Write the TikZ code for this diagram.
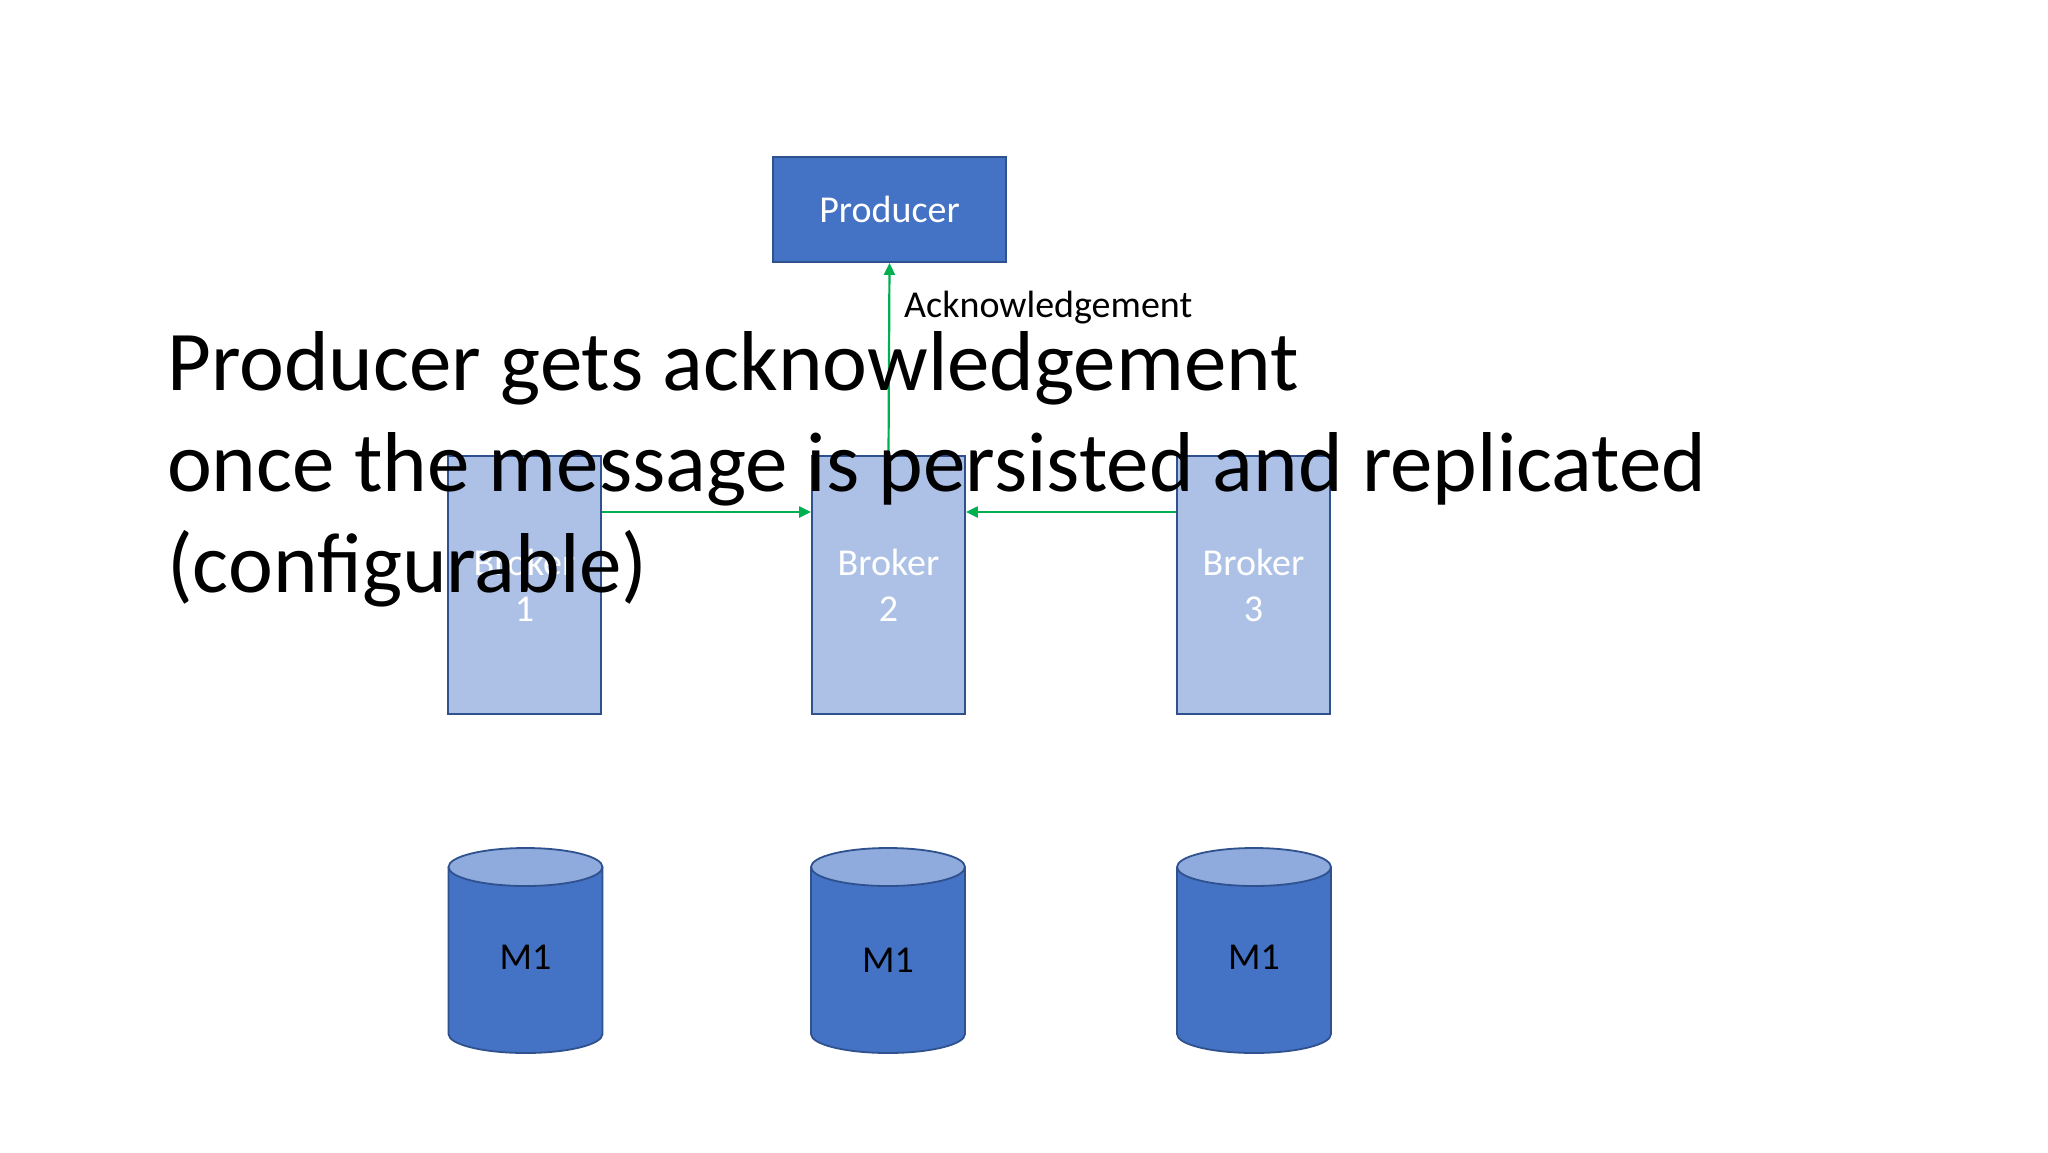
\documentclass[tikz,border=0pt]{standalone}
\usepackage{fontspec}
\setmainfont{Carlito}
\usetikzlibrary{arrows.meta}
\definecolor{brokerfill}{HTML}{ADC1E6}
\definecolor{darkblue}{HTML}{2F528F}
\definecolor{accentblue}{HTML}{4472C4}
\definecolor{toplight}{HTML}{8FAADC}
\definecolor{ackgreen}{HTML}{00B050}
\newcommand\dbcyl[4]{% name, cx, label, baseline
  \fill[accentblue] (#2-77,867) rectangle (#2+77,1034);
  \fill[accentblue] (#2,1034) ellipse [x radius=77pt, y radius=19pt];
  \draw[cylline] (#2-77,867) -- (#2-77,1034) arc[start angle=180, end angle=360, x radius=77pt, y radius=19pt] -- (#2+77,867);
  \draw[cylline, fill=toplight] (#2,867) ellipse [x radius=77pt, y radius=19pt];
  \node[cyllabel] (#1) at (#2,#4) {#3};
}
\begin{document}
\begin{tikzpicture}[x=1pt,y=-1pt,
  prodbox/.style={draw=darkblue, line width=1.8pt, fill=accentblue, text=white,
    minimum width=233pt, minimum height=105pt, inner sep=0pt,
    font=\fontsize{38}{45}\selectfont},
  brokerbox/.style={draw=darkblue, line width=1.8pt, fill=brokerfill, text=white,
    minimum width=153pt, minimum height=258pt, inner sep=0pt, align=center,
    font=\fontsize{38}{46}\selectfont},
  cylline/.style={draw=darkblue, line width=1.8pt},
  cyllabel/.style={anchor=base, text=black, inner sep=0pt, font=\fontsize{38}{45}\selectfont},
  ack/.style={draw=ackgreen, line width=2.2pt, -{Triangle[length=12pt,width=11pt]}},
  caption/.style={anchor=base west, inner sep=0pt, text=black, font=\fontsize{85}{100}\selectfont},
  acklabel/.style={anchor=base west, inner sep=0pt, text=black, font=\fontsize{38}{45}\selectfont}
]
\useasboundingbox (0,0) rectangle (2048,1152);
\fill[white] (0,0) rectangle (2048,1152);

\node[prodbox] (prod) at (889.5,209.5) {Producer};
\node[brokerbox] (b1) at (524.5,585) {Broker\\1};
\node[brokerbox] (b2) at (888.5,585) {Broker\\2};
\node[brokerbox] (b3) at (1253.5,585) {Broker\\3};

\coordinate (yarr) at (0,512);
\draw[ack] (b1.east |- yarr) -- (b2.west |- yarr);
\draw[ack] (b3.west |- yarr) -- (b2.east |- yarr);
\draw[ack] (b2.north) -- (prod.south);
\node[acklabel] (acklbl) at (904,317) {Acknowledgement};

\dbcyl{m1a}{525.5}{M1}{969}
\dbcyl{m1b}{888}{M1}{972}
\dbcyl{m1c}{1254}{M1}{969}

\node[caption] (cap1) at (167,390) {Producer gets acknowledgement};
\node[caption] (cap2) at (167,491) {once the message is persisted and replicated};
\node[caption] (cap3) at (167,592) {(configurable)};
\end{tikzpicture}
\end{document}
